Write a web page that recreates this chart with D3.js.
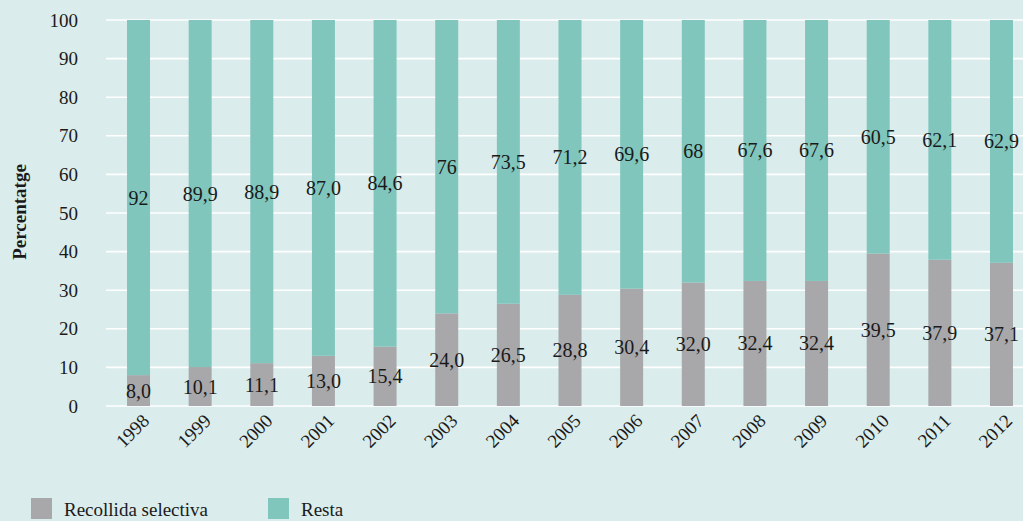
<!DOCTYPE html>
<html>
<head>
<meta charset="utf-8">
<script src="https://cdn.jsdelivr.net/npm/d3@7"></script>
<style>
  html, body { margin: 0; padding: 0; background: #daeceb; }
  svg { display: block; font-family: 'Liberation Serif', 'DejaVu Serif', serif; font-variant-numeric: oldstyle-nums; }
</style>
</head>
<body>
<div id="container"></div>
<script>
//### DATA ###
const years = [ '1998', '1999', '2000', '2001', '2002', '2003', '2004', '2005', '2006', '2007', '2008', '2009', '2010', '2011', '2012' ];
const recollida = [ 8.0, 10.1, 11.1, 13.0, 15.4, 24.0, 26.5, 28.8, 30.4, 32.0, 32.4, 32.4, 39.5, 37.9, 37.1 ];
const resta = [ 92, 89.9, 88.9, 87.0, 84.6, 76, 73.5, 71.2, 69.6, 68, 67.6, 67.6, 60.5, 62.1, 62.9 ];
//--- labels as printed on the chart (some without decimals)
const restaLabels = [ '92', '89,9', '88,9', '87,0', '84,6', '76', '73,5', '71,2', '69,6', '68', '67,6', '67,6', '60,5', '62,1', '62,9' ];
const yTicks = [ 0, 10, 20, 30, 40, 50, 60, 70, 80, 90, 100 ];
const seriesNames = [ 'Recollida selectiva', 'Resta' ];


//### CREATE THE VISUALIZATION ###
function createVisualization () {

  //_____ VARIABLES _____
  const svgWidth = 1023;
  const svgHeight = 521;
  const plot = { left: 106, right: 1034, top: 20, bottom: 406 };
  const gridRight = 1023;
  //>>> Styling:
  const bgColor = '#daeceb';
  const grayColor = '#a8a8ab';
  const tealColor = '#80c6bd';
  const textColor = '#1a1a1a';
  const colors = [ grayColor, tealColor ];


  //_____ STRUCTURE THE DATA _____
  const rows = years.map( ( y, i ) => ( {
    year: y,
    recollida: recollida[ i ],
    resta: resta[ i ],
    labels: [ d3.format( '.1f' )( recollida[ i ] ).replace( '.', ',' ), restaLabels[ i ] ]
  } ) );

  const stacked = d3.stack().keys( [ 'recollida', 'resta' ] )( rows );


  //_____ SCALES _____
  const xScale = d3.scaleBand()
    .domain( years )
    .range( [ plot.left, plot.right ] )
    .paddingInner( 0.627 )
    .paddingOuter( 0.341 );

  const yScale = d3.scaleLinear()
    .domain( [ 0, 100 ] )
    .range( [ plot.bottom, plot.top ] );


  //_____ SVG _____
  const svg = d3.select( '#container' )
    .append( 'svg' )
    .attr( 'width', svgWidth )
    .attr( 'height', svgHeight );

  svg.append( 'rect' )
    .attr( 'width', svgWidth )
    .attr( 'height', svgHeight )
    .attr( 'fill', bgColor );


  //_____ GRIDLINES _____
  svg.append( 'g' )
    .attr( 'class', 'grid' )
    .selectAll( 'line' )
    .data( yTicks )
    .enter()
    .append( 'line' )
    .attr( 'x1', plot.left )
    .attr( 'x2', gridRight )
    .attr( 'y1', d => yScale( d ) )
    .attr( 'y2', d => yScale( d ) )
    .attr( 'stroke', '#ffffff' )
    .attr( 'stroke-width', 1.6 );


  //_____ BARS _____
  const layers = svg.selectAll( 'g.layer' )
    .data( stacked )
    .enter()
    .append( 'g' )
    .attr( 'class', 'layer' )
    .attr( 'fill', ( d, i ) => colors[ i ] );

  layers.selectAll( 'rect' )
    .data( d => d )
    .enter()
    .append( 'rect' )
    .attr( 'x', d => xScale( d.data.year ) )
    .attr( 'width', xScale.bandwidth() )
    .attr( 'y', d => yScale( d[ 1 ] ) )
    .attr( 'height', d => yScale( d[ 0 ] ) - yScale( d[ 1 ] ) );


  //_____ VALUE LABELS _____
  //>>> centred on each segment
  stacked.forEach( ( layer, li ) => {
    svg.append( 'g' )
      .selectAll( 'text' )
      .data( layer )
      .enter()
      .append( 'text' )
      .attr( 'x', d => xScale( d.data.year ) + xScale.bandwidth() / 2 )
      .attr( 'y', d => yScale( ( d[ 0 ] + d[ 1 ] ) / 2 ) )
      .attr( 'dy', '0.35em' )
      .attr( 'text-anchor', 'middle' )
      .style( 'fill', textColor )
      .style( 'font-size', '20px' )
      .text( d => d.data.labels[ li ] );
  } );


  //_____ AXES _____
  //>>> Y-axis:
  const yAxis = d3.axisLeft( yScale )
    .tickValues( yTicks )
    .tickSize( 0 )
    .tickPadding( 28 );

  const yAxisG = svg.append( 'g' )
    .attr( 'transform', `translate( ${plot.left}, 0 )` )
    .call( yAxis )
    .attr( 'font-family', null )
    .attr( 'font-size', null );
  yAxisG.select( '.domain' ).remove();
  yAxisG.selectAll( 'text' )
    .style( 'font-size', '19px' )
    .style( 'fill', textColor );

  //>>> X-axis:
  const xAxis = d3.axisBottom( xScale )
    .tickSize( 0 );

  const xAxisG = svg.append( 'g' )
    .attr( 'transform', `translate( 0, ${plot.bottom} )` )
    .call( xAxis )
    .attr( 'font-family', null )
    .attr( 'font-size', null );
  xAxisG.select( '.domain' ).remove();
  xAxisG.selectAll( 'text' )
    .attr( 'y', 0 )
    .attr( 'dy', 0 )
    .attr( 'text-anchor', 'end' )
    .attr( 'transform', 'translate( 12, 16 ) rotate( -45 )' )
    .style( 'font-size', '19px' )
    .style( 'fill', textColor );


  //_____ AXIS TITLE _____
  svg.append( 'text' )
    .attr( 'transform', `translate( 26, ${( plot.top + plot.bottom ) / 2 - 1 } ) rotate( -90 )` )
    .attr( 'text-anchor', 'middle' )
    .style( 'font-size', '19px' )
    .style( 'font-weight', 'bold' )
    .style( 'fill', textColor )
    .text( 'Percentatge' );


  //_____ LEGEND _____
  const legendX = [ 31, 268 ];
  const legend = svg.append( 'g' )
    .attr( 'id', 'legend' );

  const legendItems = legend.selectAll( 'g' )
    .data( seriesNames )
    .enter()
    .append( 'g' )
    .attr( 'transform', ( d, i ) => `translate( ${legendX[ i ]}, 498 )` );

  legendItems.append( 'rect' )
    .attr( 'width', 21 )
    .attr( 'height', 21 )
    .attr( 'fill', ( d, i ) => colors[ i ] );

  legendItems.append( 'text' )
    .attr( 'x', 33 )
    .attr( 'y', 18 )
    .style( 'font-size', '19px' )
    .style( 'fill', textColor )
    .text( d => d );
}

createVisualization();
</script>
</body>
</html>
